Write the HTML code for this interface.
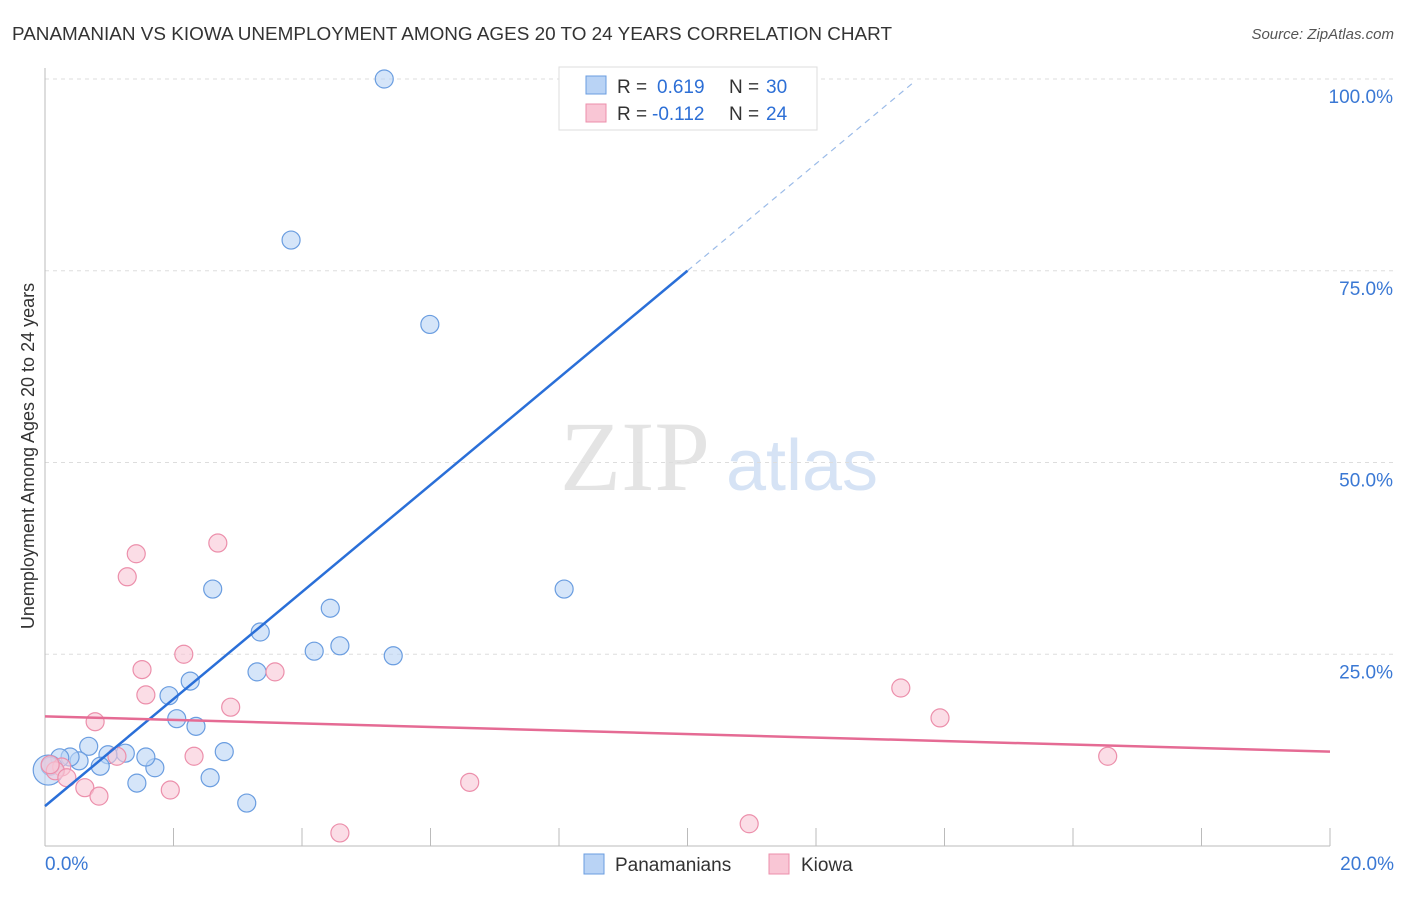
<!DOCTYPE html>
<html><head><meta charset="utf-8"><style>
body{margin:0;background:#fff;font-family:"Liberation Sans",sans-serif;}
svg text{font-family:"Liberation Sans",sans-serif;}
</style></head><body>
<svg width="1406" height="892" viewBox="0 0 1406 892">
<text x="12" y="40" font-size="18" fill="#333" textLength="880" lengthAdjust="spacingAndGlyphs">PANAMANIAN VS KIOWA UNEMPLOYMENT AMONG AGES 20 TO 24 YEARS CORRELATION CHART</text>
<text x="1394" y="39" font-size="15" fill="#555" font-style="italic" text-anchor="end">Source: ZipAtlas.com</text>
<text x="635" y="490" font-size="100" fill="#e4e4e4" style="font-family:'Liberation Serif',serif" text-anchor="middle">ZIP</text>
<text x="802" y="490" font-size="72" fill="#d6e3f5" text-anchor="middle">atlas</text>
<g id="grid"></g>
<g id="axes"></g>
<g id="marks"></g>
<text transform="translate(34,456) rotate(-90)" font-size="18" fill="#333" text-anchor="middle">Unemployment Among Ages 20 to 24 years</text>
<g>
<rect x="559" y="67" width="258" height="63" fill="#fff" stroke="#ddd"/>
<rect x="586" y="76" width="20" height="18" fill="#b9d3f5" stroke="#6a9de0"/>
<rect x="586" y="104" width="20" height="18" fill="#f9c6d5" stroke="#ec8fab"/>
<text x="617" y="93" font-size="19" fill="#333">R =</text>
<text x="657" y="93" font-size="19" fill="#2d6fd6">0.619</text>
<text x="729" y="93" font-size="19" fill="#333">N =</text>
<text x="766" y="93" font-size="19" fill="#2d6fd6">30</text>
<text x="617" y="120" font-size="19" fill="#333">R =</text>
<text x="652" y="120" font-size="19" fill="#2d6fd6">-0.112</text>
<text x="729" y="120" font-size="19" fill="#333">N =</text>
<text x="766" y="120" font-size="19" fill="#2d6fd6">24</text>
</g>
<g>
<rect x="584" y="854" width="20" height="20" fill="#b9d3f5" stroke="#6a9de0"/>
<text x="615" y="871" font-size="19" fill="#333">Panamanians</text>
<rect x="769" y="854" width="20" height="20" fill="#f9c6d5" stroke="#ec8fab"/>
<text x="801" y="871" font-size="19" fill="#333">Kiowa</text>
</g>
</svg>
<script>
const blueX=[5.28,3.83,5.99,8.08,2.61,4.44,3.35,4.19,4.59,5.42,3.30,2.26,1.93,2.05,2.35,2.79,2.57,3.14,1.43,1.71,1.57,1.25,0.98,0.68,0.86,0.53,0.39,0.23,0.08,0.05];
const blueY=[100,79.0,68.0,33.5,33.5,31.0,27.9,25.4,26.1,24.8,22.7,21.5,19.6,16.6,15.6,12.3,8.9,5.6,8.2,10.2,11.6,12.1,11.9,13.0,10.4,11.1,11.6,11.5,10.4,9.9];
const pinkX=[1.42,2.69,1.28,2.16,1.51,3.58,1.57,2.89,0.78,13.32,13.93,16.54,2.32,1.12,0.26,0.16,0.34,0.62,0.84,1.95,6.61,4.59,10.96,0.08];
const pinkY=[38.1,39.5,35.1,25.0,23.0,22.7,19.7,18.1,16.2,20.6,16.7,11.7,11.7,11.7,10.3,9.8,8.9,7.6,6.5,7.3,8.3,1.7,2.9,10.6];
const blueFit=[5.2,6.98];
const pinkFit=[16.9,12.3];
const yTicks=[25,50,75,100];
const xTickLabels=["0.0%","20.0%"];
const NS="http://www.w3.org/2000/svg";
const sx=v=>45+v/20*1285, sy=v=>846-v/100*767;
function mk(p,t,a){const e=document.createElementNS(NS,t);for(const k in a)e.setAttribute(k,a[k]);p.appendChild(e);return e;}
const grid=document.getElementById('grid'),axes=document.getElementById('axes'),marks=document.getElementById('marks');
yTicks.forEach(v=>{
 const l=mk(grid,'line',{x1:45,x2:1394,y1:sy(v),y2:sy(v),stroke:'#ddd','stroke-dasharray':'4,4'});
 
 
 const t=mk(grid,'text',{x:1393,y:sy(v)+24,'font-size':19,fill:'#3a78d4','text-anchor':'end'});
 t.textContent=v.toFixed(1)+'%';
 
 
});
const xa=mk(axes,'line',{x1:45,x2:1330,y1:846,y2:846,stroke:'#bbb'});


const ya=mk(axes,'line',{x1:45,x2:45,y1:68,y2:846,stroke:'#bbb'});


for(let i=2;i<=20;i+=2){
 const tk=mk(axes,'line',{x1:sx(i),x2:sx(i),y1:828,y2:846,stroke:'#bbb'});
 
 
}
[[0,'start',45],[1,'end',1394]].forEach(([i,a,x])=>{
 const t=mk(axes,'text',{x:x,y:870,'font-size':19,fill:'#3a78d4','text-anchor':a});
 t.textContent=xTickLabels[i];
 
 
});
blueX.forEach((x,i)=>{
 const c=mk(marks,'circle',{cx:sx(x),cy:sy(blueY[i]),r:i==29?15:9,fill:'#b9d3f5','fill-opacity':0.6,stroke:'#6a9de0','stroke-width':1.2});
 
 
});
pinkX.forEach((x,i)=>{
 const c=mk(marks,'circle',{cx:sx(x),cy:sy(pinkY[i]),r:9,fill:'#f9c6d5','fill-opacity':0.6,stroke:'#ec8fab','stroke-width':1.2});
 
 
});
const bf=x=>blueFit[0]+blueFit[1]*x;
const b1=mk(marks,'line',{x1:sx(0),y1:sy(bf(0)),x2:sx(10),y2:sy(bf(10)),stroke:'#2a6fd8','stroke-width':2.5});


const b2=mk(marks,'line',{x1:sx(10),y1:sy(bf(10)),x2:sx(13.5),y2:sy(bf(13.5)),stroke:'#9bbbe8','stroke-width':1.2,'stroke-dasharray':'6,5'});


const p1=mk(marks,'line',{x1:sx(0),y1:sy(pinkFit[0]),x2:sx(20),y2:sy(pinkFit[1]),stroke:'#e56b94','stroke-width':2.5});


</script>
</body></html>
